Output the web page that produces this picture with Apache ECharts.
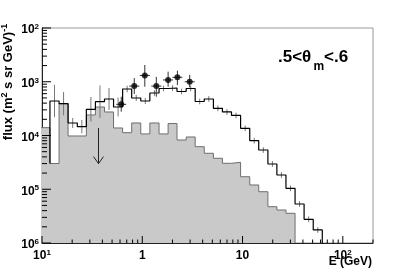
<!DOCTYPE html>
<html><head><meta charset="utf-8">
<script src="https://cdn.jsdelivr.net/npm/echarts@6/dist/echarts.min.js"></script>
<style>html,body{margin:0;padding:0;background:#fff}#c{width:415px;height:270px}</style>
</head><body><div id="c"></div>
<script>
// Energy bin edges (GeV)
const binEdges = [0.098,0.120,0.148,0.182,0.225,0.277,0.341,0.420,0.517,0.637,0.784,0.966,1.19,1.47,1.81,2.22,2.74,3.37,4.15,5.12,6.30,7.76,9.56,11.8,14.5,17.9,22.0,27.1,33.4,41.1,50.7,62.4];
// gray filled histogram, one value per bin starting at binEdges[0]
const grayFlux = [1.4e-4,3.01e-5,3.91e-4,9.8e-5,9.8e-5,2.41e-4,3.39e-4,2.74e-4,1.38e-4,1.13e-4,1.71e-4,1.07e-4,1.71e-4,1.07e-4,1.67e-4,8.25e-5,9.38e-5,6.19e-5,4.67e-5,3.77e-5,3.04e-5,3.17e-5,1.71e-5,1.20e-5,9.0e-6,4.73e-6,4.11e-6,3.57e-6];
// black line histogram (total)
const totalFlux = [null,4.38e-4,3.91e-4,1.71e-4,1.46e-4,3.07e-4,4.26e-4,4.78e-4,3.39e-4,7.33e-4,4.99e-4,4.38e-4,6.18e-4,7.49e-4,7.65e-4,6.59e-4,7.49e-4,4.29e-4,4.78e-4,3.21e-4,2.74e-4,2.36e-4,1.36e-4,8.0e-5,5.37e-5,2.95e-5,1.84e-5,1.04e-5,5.32e-6,2.76e-6,1.75e-6];
// relative errors of total histogram
const totalRelErr = [null,1.0,0.65,0.24,0.33,0.69,1.0,0.6,0.5,0.15,0.14,0.14,0.13,0.13,0.13,0.13,0.13,0.13,0.13,0.13,0.13,0.13,0.13,0.13,0.13,0.13,0.13,0.13,0.13,0.13,0.13];
// measured points
const dataE    = [0.617,0.832,1.06,1.38,1.81,2.24,2.97];
const dataELo  = [0.550,0.742,0.945,1.23,1.61,2.00,2.65];
const dataEHi  = [0.692,0.934,1.19,1.55,2.03,2.51,3.33];
const dataFlux = [3.8e-4,8.3e-4,1.31e-3,8.3e-4,1.08e-3,1.21e-3,1.0e-3];
const dataHi   = [5.27e-4,1.17e-3,2.05e-3,1.23e-3,1.54e-3,1.61e-3,1.34e-3];
const dataLo   = [2.77e-4,5.92e-4,8.09e-4,5.27e-4,8.09e-4,8.7e-4,7.88e-4];
// upper limit arrow
const limitE = [0.366];
const limitFrom = [1.38e-4];
const limitTo = [3.0e-5];

const xMin = 0.1, xMax = 200, yMin = 1e-6, yMax = 1e-2;
const FONT = 'Liberation Sans';

function stepPath(edges, vals, startIdx, startLevel){
  const pts = [];
  if (startLevel != null) pts.push([edges[startIdx], startLevel]);
  for (let i = startIdx; i < vals.length; i++){
    if (vals[i] == null) continue;
    pts.push([edges[i], vals[i]]);
    pts.push([edges[i+1], vals[i]]);
  }
  pts.push([edges[vals.length], yMin]);
  return pts;
}
const grayPts = stepPath(binEdges, grayFlux, 0, null);
const totalPts = stepPath(binEdges, totalFlux, 1, grayFlux[1]);
const totalErrData = [];
for (let i = 1; i < totalFlux.length; i++){
  const c = Math.sqrt(binEdges[i]*binEdges[i+1]);
  const r = totalRelErr[i];
  totalErrData.push([c, totalFlux[i]*(1+r), totalFlux[i]/(1+r)]);
}

// tick positions
const xMinor = [], yMinor = [], xMajor = [], yMajor = [];
[0.1,1,10,100].forEach(d=>{ xMajor.push(d); for(let k=2;k<=9;k++){ if(d*k<=xMax) xMinor.push(d*k);} });
[1e-6,1e-5,1e-4,1e-3].forEach(d=>{ yMajor.push(d); for(let k=2;k<=9;k++) yMinor.push(d*k); });
yMajor.push(1e-2);

function supLabel(v, isX){
  const e = Math.log10(v), r = Math.round(e);
  if (Math.abs(e - r) > 1e-6) return '';
  if (isX && r === 0) return '{b|1}';
  if (isX && r === 1) return '{b|10}';
  return '{b|10}{s|' + Math.abs(r) + '}';
}
const richLab = {
  b: {fontFamily: FONT, fontWeight: 'bold', fontSize: 12, color: '#000', lineHeight: 14},
  s: {fontFamily: FONT, fontWeight: 'bold', fontSize: 8, color: '#000', lineHeight: 8, verticalAlign: 'top'}
};

function ticks(vals, isX, len){
  return {
    type: 'custom', coordinateSystem: 'cartesian2d', silent: true, clip: false, z: 10,
    data: vals.map(v => isX ? [v, yMin] : [xMin, v]),
    renderItem(params, api){
      const p = api.coord([api.value(0), api.value(1)]);
      const shape = isX ? {x1:p[0], y1:p[1], x2:p[0], y2:p[1]-len} : {x1:p[0], y1:p[1], x2:p[0]+len, y2:p[1]};
      return {type:'line', shape, style:{stroke:'#000', lineWidth:1}};
    }
  };
}

const bigText = {fontFamily:FONT, fontWeight:'bold', fontSize:17, fill:'#000', align:'left', verticalAlign:'middle'};

const chart = echarts.init(document.getElementById('c'), null, {renderer:'canvas'});
chart.setOption({
  animation: false,
  backgroundColor: '#fff',
  grid: {left: 42, top: 28, right: 42, bottom: 27, show: true, borderColor: '#999', borderWidth: 1, backgroundColor: 'transparent'},
  xAxis: {type: 'log', min: xMin, max: xMax, logBase: 10,
    axisLine: {show: true, onZero: false, lineStyle: {color: '#222', width: 1}},
    axisTick: {show: false}, splitLine: {show: false},
    axisLabel: {margin: 6, formatter: v => supLabel(v, true), rich: richLab, showMaxLabel: false}
  },
  yAxis: {type: 'log', min: yMin, max: yMax, logBase: 10,
    axisLine: {show: true, onZero: false, lineStyle: {color: '#222', width: 1}},
    axisTick: {show: false}, splitLine: {show: false},
    axisLabel: {margin: 3, formatter: v => supLabel(v, false), rich: richLab, padding: [4,0,0,0]}
  },
  series: [
    {type:'line', data: grayPts, symbol:'none', z: 1, lineStyle:{color:'#6e6e6e', width:1}, areaStyle:{color:'#c9c9c9', opacity:1, origin:'start'}, silent:true},
    {type:'custom', coordinateSystem:'cartesian2d', z: 2, silent:true, data: totalErrData,
      renderItem(params, api){
        const top = api.coord([api.value(0), api.value(1)]);
        const bot = api.coord([api.value(0), api.value(2)]);
        return {type:'line', shape:{x1:top[0], y1:top[1], x2:bot[0], y2:bot[1]}, style:{stroke:'#777', lineWidth:1}};
      }},
    {type:'line', data: totalPts, symbol:'none', z: 3, lineStyle:{color:'#000', width:1.2}, silent:true},
    {type:'custom', coordinateSystem:'cartesian2d', z: 4, silent:true,
      data: dataE.map((e,i)=>[e, dataFlux[i], dataLo[i], dataHi[i], dataELo[i], dataEHi[i]]),
      renderItem(params, api){
        const e = api.value(0), f = api.value(1);
        const a = api.coord([e, api.value(3)]), b = api.coord([e, api.value(2)]);
        const l = api.coord([api.value(4), f]), r = api.coord([api.value(5), f]);
        return {type:'group', children:[
          {type:'line', shape:{x1:a[0], y1:a[1], x2:b[0], y2:b[1]}, style:{stroke:'#333', lineWidth:1}},
          {type:'line', shape:{x1:l[0], y1:l[1], x2:r[0], y2:r[1]}, style:{stroke:'#333', lineWidth:1}}
        ]};
      }},
    {type:'scatter', data: dataE.map((e,i)=>[e, dataFlux[i]]), symbol:'circle', symbolSize: 6, z: 5, itemStyle:{color:'#000'}, silent:true},
    {type:'custom', coordinateSystem:'cartesian2d', z: 4, silent:true,
      data: limitE.map((e,i)=>[e, limitFrom[i], limitTo[i]]),
      renderItem(params, api){
        const a = api.coord([api.value(0), api.value(1)]);
        const b = api.coord([api.value(0), api.value(2)]);
        return {type:'group', children:[
          {type:'line', shape:{x1:a[0], y1:a[1], x2:b[0], y2:b[1]}, style:{stroke:'#222', lineWidth:1}},
          {type:'polyline', shape:{points:[[b[0]-5, b[1]-7],[b[0], b[1]],[b[0]+5, b[1]-7]]}, style:{stroke:'#222', lineWidth:1, fill:null}}
        ]};
      }},
    ticks(xMajor, true, 7),
    ticks(xMinor, true, 3.5),
    ticks(yMajor, false, 9),
    ticks(yMinor, false, 5)
  ],
  graphic: [
    {type:'text', x: 8, y: 82, rotation: Math.PI/2, z: 20,
      style:{text:'{b|flux (m}{s|2}{b| s sr GeV)}{s|-1}', align:'center', verticalAlign:'middle',
        rich:{b:{fontFamily:FONT, fontWeight:'bold', fontSize:13, lineHeight:15, fill:'#000'}, s:{fontFamily:FONT, fontWeight:'bold', fontSize:9, lineHeight:9, verticalAlign:'top', fill:'#000'}}}},
    {type:'text', x: 372, y: 262, z: 20,
      style:{text:'E (GeV)', align:'right', verticalAlign:'middle', fontFamily:FONT, fontWeight:'bold', fontSize:12, fill:'#000'}},
    {type:'text', x: 278, y: 57.5, z: 20, style: Object.assign({text:'.5<'}, bigText)},
    {type:'text', x: 302, y: 57.5, z: 20, style: Object.assign({text:'θ'}, bigText)},
    {type:'text', x: 313.5, y: 66.5, z: 20,
      style:{text:'m', align:'left', verticalAlign:'middle', fontFamily:FONT, fontWeight:'bold', fontSize:12, fill:'#000'}},
    {type:'text', x: 324, y: 57.5, z: 20, style: Object.assign({text:'<.6'}, bigText)}
  ]
});
</script></body></html>
